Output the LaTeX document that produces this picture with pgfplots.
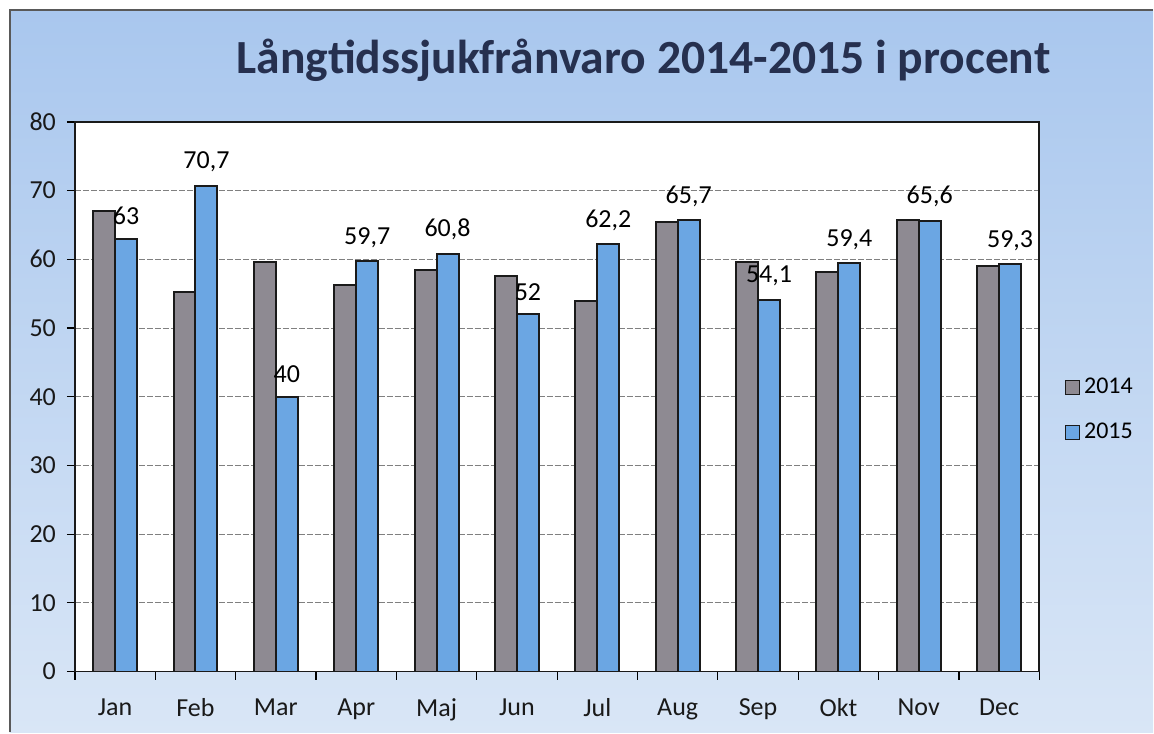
\documentclass[border=0pt]{standalone}
\usepackage{pgfplots}
\pgfplotsset{compat=1.18}
\usepackage{fontspec}
\setmainfont{Carlito}
\definecolor{bgtop}{HTML}{A9C7EE}
\definecolor{bgbot}{HTML}{D9E6F6}
\definecolor{titlecol}{HTML}{26304F}
\definecolor{gbar}{HTML}{8E8A92}
\definecolor{bbar}{HTML}{6BA6E3}
\definecolor{edgec}{HTML}{1A1A1A}
\begin{document}
\begin{tikzpicture}[x=1pt,y=1pt]
\fill[white] (0,0) rectangle (577,366.5);
\shade[top color=bgtop, bottom color=bgbot] (5,0) rectangle (577,361.5);
\draw[gray!70!black, line width=0.8pt] (5,0) -- (5,361.5) -- (577,361.5);
\node[font=\bfseries\fontsize{23.8}{27}\selectfont, text=titlecol] at (322,336.5) {Långtidssjukfrånvaro 2014-2015 i procent};
\begin{axis}[
  at={(37.5pt,30.5pt)}, anchor=south west,
  scale only axis, width=482.5pt, height=275pt,
  /pgf/number format/assume math mode=true,
  ymin=0, ymax=80, ytick={0,10,...,80},
  xmin=-0.5, xmax=11.5,
  xtick={0,...,11},
  xticklabels={Jan,Feb,Mar,Apr,Maj,Jun,Jul,Aug,Sep,Okt,Nov,Dec},
  minor xtick={-0.5,0.5,...,11.5},
  major x tick style={draw=none},
  xtick pos=bottom, ytick pos=left,
  tick align=outside,
  major tick length=4pt, minor tick length=4pt,
  tick style={black, line width=0.6pt},
  axis background/.style={fill=white},
  axis line style={edgec, line width=0.8pt},
  ymajorgrids, grid style={gray, line width=0.5pt, dash pattern=on 3pt off 1pt},
  ybar=0pt, bar width=11pt,
  tick label style={font=\fontsize{13}{15}\selectfont, text=black!90},
  xticklabel style={yshift=-6pt},
  yticklabel style={xshift=-2pt},
  legend style={at={(1.02,0.476)}, anchor=west, draw=none, fill=none,
    font=\fontsize{12}{14}\selectfont, row sep=9pt, legend cell align=left},
  legend image code/.code={\draw[#1, line width=0.6pt] (0pt,-3.5pt) rectangle (7pt,3.5pt);},
]
\addplot[fill=gbar, draw=edgec, line width=1pt] coordinates {
(0,67) (1,55.3) (2,59.6) (3,56.3) (4,58.5) (5,57.5) (6,54) (7,65.5) (8,59.6) (9,58.2) (10,65.7) (11,59.1)};
\addplot[fill=bbar, draw=edgec, line width=1pt,
  nodes near coords, /pgf/number format/use comma,
  every node near coord/.append style={font=\fontsize{13}{15}\selectfont, text=black, yshift=3pt}] coordinates {
(0,63) (1,70.7) (2,40) (3,59.7) (4,60.8) (5,52) (6,62.2) (7,65.7) (8,54.1) (9,59.4) (10,65.6) (11,59.3)};
\legend{2014,2015}
\end{axis}
\end{tikzpicture}
\end{document}
